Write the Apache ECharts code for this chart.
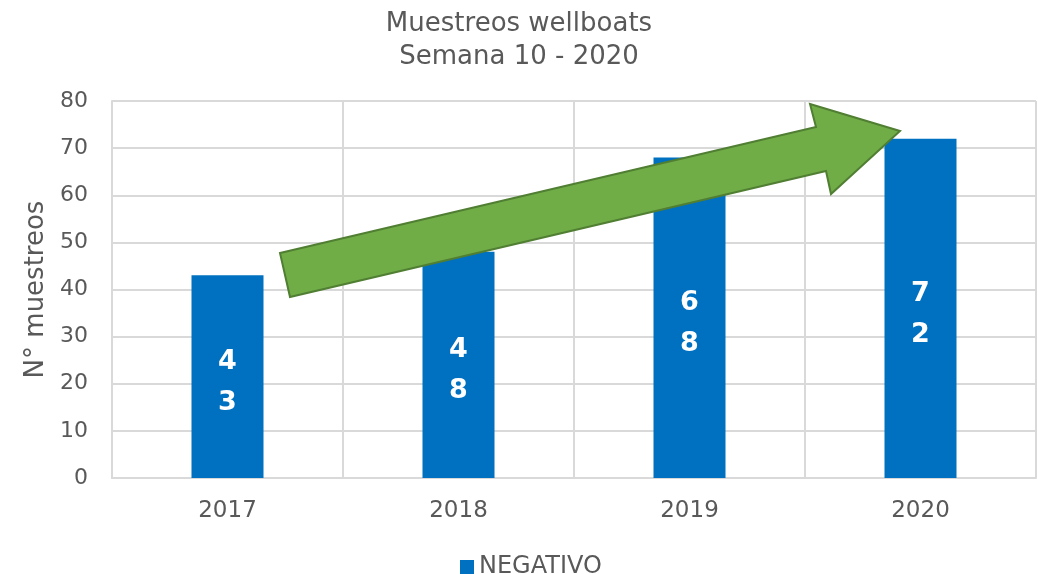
<!DOCTYPE html>
<html>
<head>
<meta charset="utf-8">
<script src="https://cdn.jsdelivr.net/npm/echarts@6/dist/echarts.min.js"></script>
<style>
	html, body { margin: 0; padding: 0; background: #fff; }
	#chart { width: 1038px; height: 574px; }
</style>
</head>
<body>
<div id="chart"></div>
<script>
var years = ['2017', '2018', '2019', '2020'];
var negativo = [43, 48, 68, 72];
var yTicks = [0, 10, 20, 30, 40, 50, 60, 70, 80];

var FONT = '"DejaVu Sans", Verdana, sans-serif';
var GREY = '#595959';

var chart = echarts.init(document.getElementById('chart'));

chart.setOption({
	animation: false,
	title: {
		text: 'Muestreos wellboats\nSemana 10 - 2020',
		left: 'center',
		top: 3,
		textStyle: {
			fontFamily: FONT,
			fontSize: 26,
			fontWeight: 'normal',
			color: GREY,
			lineHeight: 33
		}
	},
	legend: {
		top: 550,
		left: 455,
		itemWidth: 14,
		itemHeight: 14,
		icon: 'rect',
		textStyle: { fontFamily: FONT, fontSize: 24, color: GREY },
		data: ['NEGATIVO']
	},
	grid: { left: 112, right: 2, top: 101, bottom: 96 },
	xAxis: {
		type: 'category',
		data: years,
		axisLine: { lineStyle: { color: '#d9d9d9', width: 2 } },
		axisTick: { show: false },
		splitLine: { show: true, lineStyle: { color: '#d9d9d9', width: 2 } },
		axisLabel: { fontFamily: FONT, fontSize: 23, color: GREY, margin: 22 }
	},
	yAxis: {
		type: 'value',
		min: yTicks[0],
		max: yTicks[yTicks.length - 1],
		interval: 10,
		name: 'N° muestreos',
		nameLocation: 'middle',
		nameGap: 63,
		nameTextStyle: { fontFamily: FONT, fontSize: 26, color: GREY },
		axisLine: { show: true, lineStyle: { color: '#d9d9d9', width: 2 } },
		axisTick: { show: false },
		splitLine: { lineStyle: { color: '#d9d9d9', width: 2 } },
		axisLabel: { fontFamily: FONT, fontSize: 22, color: GREY, margin: 24 }
	},
	series: [
		{
			name: 'NEGATIVO',
			type: 'bar',
			data: negativo,
			barWidth: 72,
			itemStyle: { color: '#0070C0' },
			label: {
				show: true,
				position: 'inside',
				offset: [0, 6],
				fontFamily: FONT,
				fontSize: 27,
				fontWeight: 'bold',
				color: '#fff',
				lineHeight: 41,
				formatter: function (p) {
					return String(p.value).split('').join('\n');
				}
			}
		}
	],
	graphic: [
		{
			type: 'polygon',
			z: 100,
			shape: {
				points: [
					[280, 253], [816, 127], [810, 104], [900, 131],
					[831, 194], [826, 171], [290, 297]
				]
			},
			style: { fill: '#70AD47', stroke: '#507E32', lineWidth: 2 }
		}
	]
});
</script>
</body>
</html>
